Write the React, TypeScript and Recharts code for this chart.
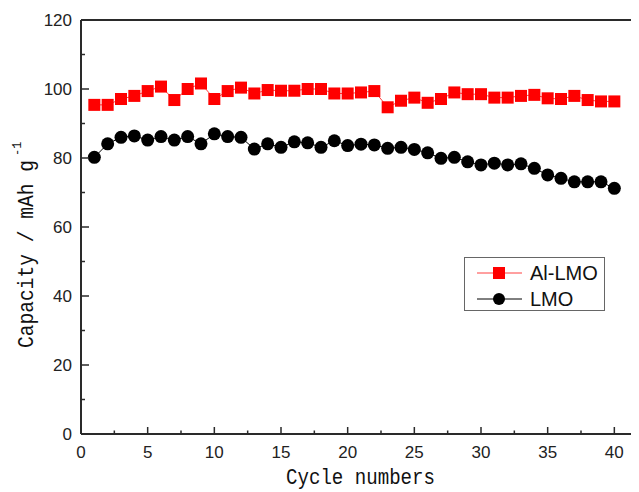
import React from 'react';
import { ComposedChart, Line, XAxis, YAxis, ReferenceLine, Legend } from 'recharts';

const cycles = [1, 2, 3, 4, 5, 6, 7, 8, 9, 10, 11, 12, 13, 14, 15, 16, 17, 18, 19, 20,
  21, 22, 23, 24, 25, 26, 27, 28, 29, 30, 31, 32, 33, 34, 35, 36, 37, 38, 39, 40];

const alLmo = [95.4, 95.4, 97.1, 98.0, 99.4, 100.7, 96.8, 100.0, 101.6, 97.1,
  99.4, 100.4, 98.7, 99.7, 99.5, 99.5, 100.0, 100.0, 98.7, 98.7,
  99.0, 99.4, 94.7, 96.6, 97.5, 96.0, 97.1, 99.0, 98.5, 98.5,
  97.5, 97.5, 98.0, 98.3, 97.3, 97.1, 98.0, 96.8, 96.4, 96.4];

const lmo = [80.2, 84.1, 86.0, 86.4, 85.2, 86.2, 85.2, 86.2, 84.1, 87.0,
  86.2, 86.0, 82.6, 84.1, 83.1, 84.7, 84.4, 83.1, 85.0, 83.6,
  84.0, 83.8, 82.8, 83.1, 82.5, 81.5, 79.9, 80.2, 78.9, 78.0,
  78.5, 78.0, 78.3, 77.0, 75.1, 74.1, 73.1, 73.1, 73.1, 71.2];

const xMajorTicks = [0, 5, 10, 15, 20, 25, 30, 35, 40];
const xMinorTicks = [2.5, 7.5, 12.5, 17.5, 22.5, 27.5, 32.5, 37.5];
const yMajorTicks = [0, 20, 40, 60, 80, 100, 120];
const yMinorTicks = [10, 30, 50, 70, 90, 110];

const seriesNames = ['Al-LMO', 'LMO'];
const xTitle = 'Cycle numbers';
const yTitle = 'Capacity / mAh g';
const yTitleSup = '-1';

const data = cycles.map((c, i) => ({ cycle: c, alLmo: alLmo[i], lmo: lmo[i] }));

const AXIS = '#2a2a2a';
const TICK_FONT = '"Liberation Sans", Arial, sans-serif';
const TITLE_FONT = '"Liberation Mono", "DejaVu Sans Mono", monospace';

const renderXTick = (props: any) => {
  const { x, y, payload } = props;
  const v = payload.value;
  const major = xMajorTicks.includes(v);
  return (
    <g key={`xt-${v}`}>
      <line x1={x} x2={x} y1={y} y2={y - (major ? 7 : 3.5)} stroke={AXIS} strokeWidth={1.5} />
      {major && (
        <text x={x} y={y + 24} textAnchor="middle" fontFamily={TICK_FONT} fontSize={17} fill="#222">
          {v}
        </text>
      )}
    </g>
  );
};

const renderYTick = (props: any) => {
  const { x, y, payload } = props;
  const v = payload.value;
  const major = yMajorTicks.includes(v);
  return (
    <g key={`yt-${v}`}>
      <line x1={x} x2={x + (major ? 8 : 4)} y1={y} y2={y} stroke={AXIS} strokeWidth={1.5} />
      {major && (
        <text x={x - 9} y={y} dy="0.35em" textAnchor="end" fontFamily={TICK_FONT} fontSize={17} fill="#222">
          {v}
        </text>
      )}
    </g>
  );
};

const renderSquare = (p: any) => {
  if (p.cx == null || p.cy == null) return <g key={`s-${p.index}`} />;
  return <rect key={`s-${p.index}`} x={p.cx - 6} y={p.cy - 6} width={12} height={12} fill="#ff0000" />;
};

const renderCircle = (p: any) => {
  if (p.cx == null || p.cy == null) return <g key={`c-${p.index}`} />;
  return <circle key={`c-${p.index}`} cx={p.cx} cy={p.cy} r={6.5} fill="#000" />;
};

const renderLegend = () => (
  <svg width={141} height={54} style={{ display: 'block' }}>
    <rect x={0.5} y={0.5} width={140} height={53} fill="#fff" stroke="#666" strokeWidth={1} />
    <line x1={13} x2={58} y1={16} y2={16} stroke="#ff4040" strokeWidth={1} />
    <rect x={29} y={10} width={12} height={12} fill="#ff0000" />
    <text x={66} y={16} dy="0.36em" fontFamily={TICK_FONT} fontSize={20} fill="#111">{seriesNames[0]}</text>
    <line x1={13} x2={58} y1={42} y2={42} stroke="#000" strokeWidth={1} />
    <circle cx={35} cy={42} r={6} fill="#000" />
    <text x={66} y={42} dy="0.36em" fontFamily={TICK_FONT} fontSize={20} fill="#111">{seriesNames[1]}</text>
  </svg>
);

const renderXTitle = () => (
  <text x={278} y={476} fontFamily={TITLE_FONT} fontSize={22} fill="#111" textLength={149} lengthAdjust="spacingAndGlyphs">
    {xTitle}
  </text>
);

const renderYTitle = () => (
  <g transform="translate(25, 340) rotate(-90)">
    <text x={0} y={0} fontFamily={TITLE_FONT} fontSize={22} fill="#111" textLength={188} lengthAdjust="spacingAndGlyphs">
      {yTitle}
    </text>
    <text x={192} y={-12} fontFamily={TITLE_FONT} fontSize={12} fill="#111">
      {yTitleSup}
    </text>
  </g>
);

export default function App() {
  return (
    <div style={{ width: 631, height: 484 }}>
      <ComposedChart width={631} height={484} data={data} margin={{ top: 12, right: 0, bottom: 0, left: 0 }}>
        <XAxis
          dataKey="cycle"
          type="number"
          domain={[0, 41.85]}
          allowDataOverflow
          ticks={[...xMajorTicks, ...xMinorTicks].sort((a, b) => a - b)}
          interval={0}
          tickLine={false}
          tickSize={0}
          tickMargin={0}
          height={58}
          axisLine={{ stroke: AXIS, strokeWidth: 2 }}
          tick={renderXTick}
          label={{ content: renderXTitle }}
        />
        <YAxis
          type="number"
          domain={[0, 120]}
          ticks={[...yMajorTicks, ...yMinorTicks].sort((a, b) => a - b)}
          interval={0}
          tickLine={false}
          tickSize={0}
          tickMargin={0}
          width={73}
          axisLine={{ stroke: AXIS, strokeWidth: 2 }}
          tick={renderYTick}
          label={{ content: renderYTitle }}
        />
        <ReferenceLine y={120} stroke={AXIS} strokeWidth={2} />
        <Line dataKey="alLmo" name={seriesNames[0]} stroke="#ff4040" strokeWidth={1} dot={renderSquare} activeDot={false} isAnimationActive={false} />
        <Line dataKey="lmo" name={seriesNames[1]} stroke="#000" strokeWidth={1} dot={renderCircle} activeDot={false} isAnimationActive={false} />
        <Legend
          layout="vertical"
          align="center"
          verticalAlign="middle"
          content={renderLegend}
          wrapperStyle={{ position: 'absolute', left: 456, top: 249, width: 141, height: 54 }}
        />
      </ComposedChart>
    </div>
  );
}
